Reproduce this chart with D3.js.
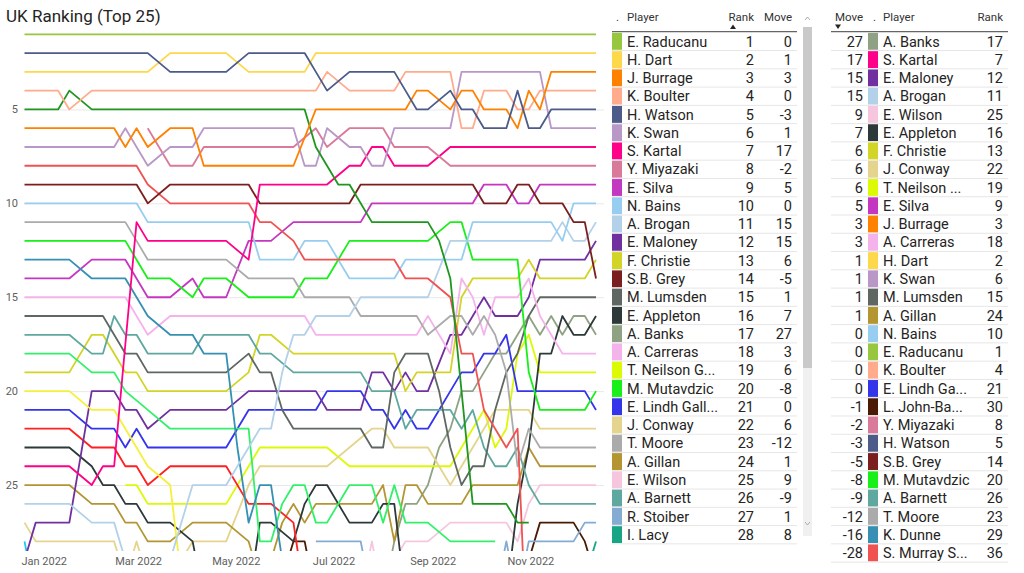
<!DOCTYPE html>
<html><head><meta charset="utf-8">
<script src="https://cdn.jsdelivr.net/npm/d3@7"></script>
<style>
body{margin:0;background:#fff;}
svg{display:block;font-family:Roboto, "Noto Sans", sans-serif;}
</style></head><body>
<svg id="c" width="1024" height="573"></svg>
<script>
const _ = null;
const weeks = ["2021-12-20","2021-12-27","2022-01-03","2022-01-10","2022-01-17","2022-01-24","2022-01-31","2022-02-07","2022-02-14","2022-02-21",
"2022-02-28","2022-03-07","2022-03-14","2022-03-21","2022-03-28","2022-04-04","2022-04-11","2022-04-18","2022-04-25","2022-05-02",
"2022-05-09","2022-05-16","2022-05-23","2022-05-30","2022-06-06","2022-06-13","2022-06-20","2022-06-27","2022-07-04","2022-07-11",
"2022-07-18","2022-07-25","2022-08-01","2022-08-08","2022-08-15","2022-08-22","2022-08-29","2022-09-05","2022-09-12","2022-09-19",
"2022-09-26","2022-10-03","2022-10-10","2022-10-17","2022-10-24","2022-10-31","2022-11-07","2022-11-14","2022-11-21","2022-11-28",
"2022-12-05","2022-12-12"];
const xTickLabels = ["2022-01-01","2022-03-01","2022-05-01","2022-07-01","2022-09-01","2022-11-01"];
const yTickLabels = [5,10,15,20,25];

// weekly ranks per player (values > 28 fall below the visible top-28 window)
const raducanu = [1,1,1,1,1,1,1,1,1,1, 1,1,1,1,1,1,1,1,1,1, 1,1,1,1,1,1,1,1,1,1, 1,1,1,1,1,1,1,1,1,1, 1,1,1,1,1,1,1,1,1,1, 1,1];
const watson = [2,2,2,2,2,2,2,2,2,2, 2,2,_,3,3,3,3,3,3,_, 2,2,2,2,2,2,3,4,_,3, 3,3,3,3,4,5,5,_,4,5, 5,6,6,6,4,6,6,5,5,5, 5,5];
const dart = [3,3,3,3,3,3,3,3,3,3, 3,3,_,2,2,2,2,2,2,_, 3,3,3,3,3,3,2,2,2,2, 2,2,2,2,2,2,2,2,2,2, 2,2,2,2,2,2,2,2,2,2, 2,2];
const burrage = [6,6,6,6,6,6,6,6,6,7, 6,7,_,6,6,6,8,8,8,8, 8,8,8,8,8,_,5,5,5,5, 5,5,5,5,5,4,4,_,5,4, 4,5,5,5,6,4,5,3,3,3, 3,3];
const boulter = [4,4,4,4,5,_,4,4,4,4, 4,4,4,4,4,4,4,4,4,4, 4,4,4,4,4,4,4,3,_,4, 4,4,4,4,3,3,3,3,3,6, 6,4,4,4,5,5,4,4,4,4, 4,4];
const darkGreen = [5,5,5,5,4,_,5,5,5,5, 5,5,5,5,5,5,5,5,5,5, 5,5,5,5,5,5,7,8,9,9, 10,11,11,11,11,11,11,12,14,20, 26,26,26,26,27,27,_,_,_,_, _,_];
const swan = [7,7,7,7,7,7,7,7,7,6, 7,8,_,7,7,7,6,6,6,6, 6,6,6,6,6,8,8,6,_,7, 7,8,8,6,6,6,6,6,6,3, 3,3,3,3,3,3,3,6,6,6, 6,6];
const miyazaki = [_,_,_,_,_,_,_,_,_,_, _,6,_,8,8,8,7,7,7,7, 7,7,7,7,7,_,6,7,_,6, 6,6,6,7,7,7,7,_,8,8, 8,8,8,8,8,8,8,8,8,8, 8,8];
const kartal = [24,24,24,24,24,_,25,24,24,_, 11,12,12,12,12,12,12,12,12,_, 13,9,9,9,9,9,9,9,_,8, 8,7,7,8,8,8,8,_,7,7, 7,7,7,7,7,7,7,7,7,7, 7,7];
const grey = [9,9,9,9,9,9,9,9,9,9, 9,10,_,9,9,9,9,9,9,9, 9,10,10,10,10,10,10,10,10,10, 9,9,9,9,9,9,9,9,9,9, 9,10,10,10,9,9,10,10,10,11, 11,14];
const murray = [8,8,8,8,8,8,8,8,8,8, 8,9,_,10,10,10,10,10,10,10, 10,11,11,_,12,13,13,13,13,13, 13,13,13,13,14,14,14,_,15,18, 18,21,22,23,22,36,36,36,36,36, 36,36];
const bains = [10,10,10,10,10,10,10,10,10,10, 10,11,11,11,11,11,11,11,11,11, 11,13,13,13,13,12,12,12,13,14, 14,14,14,14,13,13,13,13,13,13, 11,11,11,11,11,11,11,11,12,10, 10,10];
const brogan = [26,26,26,26,26,_,27,27,27,29, 31,31,31,29,_,25,25,25,25,_, 23,22,22,19,17,17,16,16,16,16, 15,15,15,15,15,15,15,_,12,12, 12,12,12,12,12,12,12,12,11,12, 12,11];
const moore = [11,11,11,11,11,11,11,11,11,11, 12,13,13,13,13,13,13,13,13,_, 14,14,14,14,14,15,15,15,15,15, 16,16,16,16,16,16,17,_,16,16, 17,16,17,19,24,22,23,23,23,23, 23,23];
const mutavdzic = [12,12,12,12,12,12,12,12,12,12, 13,14,14,14,_,15,14,14,14,_, 15,15,15,15,15,14,14,14,13,12, 12,12,12,12,12,12,12,_,11,11, 13,13,13,13,13,19,21,21,21,21, 21,20];
const dunne = [13,13,13,13,13,_,14,14,14,14, 15,16,_,17,17,17,18,18,18,23, 27,25,25,29,31,31,31,31,31,31, 31,31,31,31,31,31,31,31,31,31, 31,31,31,31,31,31,31,31,31,31, 31,29];
const silva = [14,14,14,14,14,_,13,13,13,13, 14,15,15,15,_,14,15,15,15,_, 12,12,12,_,11,11,11,11,11,11, 11,10,10,10,10,10,10,10,10,10, 10,9,9,9,10,10,9,9,9,9, 9,9];
const carreras = [15,15,15,15,15,15,15,15,15,15, 16,17,_,16,16,16,16,16,16,16, 16,16,16,16,16,16,17,17,17,17, 17,17,17,17,17,17,16,17,18,14, 15,17,15,15,15,14,16,17,18,18, 18,18];
const lumsden = [16,16,16,16,16,16,16,16,17,18, 18,19,19,19,19,19,19,19,19,_, 18,19,19,21,22,22,22,22,22,22, 22,23,23,19,18,18,18,20,23,25, 24,24,21,19,18,16,15,15,15,15, 15,15];
const barnett = [17,17,17,17,17,_,18,18,16,17, 17,18,18,18,18,18,17,17,17,17, 17,18,18,_,19,19,19,19,19,19, 19,20,20,20,22,21,21,21,21,22, 21,23,24,24,23,25,26,26,26,26, 26,26];
const springGreen = [18,18,18,18,18,_,19,19,19,20, _,21,_,22,22,22,22,22,22,22, 22,28,28,26,25,25,27,27,_,25, 25,25,27,25,27,27,27,_,28,28, 28,28,28,_,_,_,_,_,_,_, _,_];
const christie = [19,19,19,19,19,_,17,17,18,19, 19,20,20,20,20,20,20,20,20,_, 19,17,17,_,18,18,18,18,18,18, 18,18,18,18,20,19,19,19,19,15, 14,14,14,14,14,13,14,14,14,14, 14,13];
const yellow20 = [20,20,20,20,20,_,21,21,21,22, 23,24,_,25,30,_,_,_,_,_, _,_,_,_,_,_,_,_,_,_, _,_,_,_,_,_,_,_,_,_, _,_,_,_,_,_,_,_,_,_, _,_];
const maloney = [29,27,27,27,27,_,20,20,20,21, 21,22,_,21,21,21,21,21,21,_, 20,20,20,20,20,20,20,21,21,21, 21,19,19,20,19,20,20,_,17,17, 16,15,16,16,16,15,13,13,13,13, 13,12];
const lindh = [21,21,21,21,21,_,22,22,22,23, 22,23,23,23,23,23,23,23,23,_, 21,21,21,21,21,21,21,20,20,20, 20,21,21,22,21,22,22,21,20,19, 19,18,18,17,20,20,20,20,20,20, 20,21];
const red22 = [22,22,22,22,22,_,23,23,23,24, 24,25,_,24,24,24,24,24,24,_, 26,26,26,_,27,31,_,_,_,_, _,_,_,_,_,_,_,_,_,_, _,_,_,_,_,_,_,_,_,_, _,_];
const appleton = [23,23,23,23,23,_,24,25,25,26, 26,27,_,27,_,28,31,31,31,31, 31,27,27,_,28,26,25,25,_,27, 27,27,26,26,31,31,31,31,31,31, 31,31,31,31,26,23,18,18,16,17, 17,16];
const gillan = [25,25,25,25,25,_,26,26,26,27, 27,28,_,28,_,27,27,27,27,_, 28,30,29,27,26,27,26,26,26,26, 26,26,25,28,25,25,26,26,26,26, 25,25,25,25,25,23,24,24,24,24, 24,24];
const conway = [27,28,28,28,28,28,28,28,28,30, 28,30,_,30,29,28,28,28,28,_, 25,24,24,24,24,24,24,24,_,23, _,22,22,23,23,23,23,24,25,24, 23,22,21,21,21,21,22,22,22,22, 22,22];
const neilson = [_,_,_,_,_,_,_,_,_,25, 25,26,26,26,26,26,26,26,26,_, 24,23,23,23,23,23,23,23,_,24, 24,24,24,24,24,24,24,24,24,23, 22,21,23,22,18,17,19,19,19,19, 19,19];
const stoiber = [_,_,_,_,_,_,_,_,_,_, _,_,_,_,_,_,_,_,_,_, _,_,_,_,_,_,28,28,28,28, 28,31,31,31,31,31,31,31,31,31, 31,31,31,28,31,28,28,28,28,28, 27,27];
const wilson = [_,_,_,_,_,_,_,_,_,_, _,_,_,_,_,_,_,_,_,_, _,_,_,_,_,_,_,_,_,_, 31,28,31,29,28,28,28,_,27,27, 27,27,27,27,28,26,25,25,25,25, 25,25];
const banks = [_,_,_,_,_,_,_,_,_,_, _,_,_,_,_,_,_,_,_,_, _,_,_,_,_,_,_,_,_,_, _,_,31,28,26,26,25,23,22,20, 20,19,18,18,17,16,17,16,17,16, 16,17];
const johnBaylis = [29,31,31,31,31,31,31,31,31,31, 31,31,31,31,31,31,31,31,31,31, 31,31,31,30,28,28,31,31,31,31, 31,31,31,31,31,31,31,31,31,31, 31,31,31,31,31,29,27,27,27,27, 28,30];
const lacy = [_,_,_,_,_,_,_,_,_,_, _,_,_,_,_,_,_,_,_,_, _,_,_,_,_,_,_,_,_,_, _,_,_,_,_,_,_,_,_,_, _,_,_,_,_,_,_,_,_,31, 30,28];
const cyan28 = [28,31,_,_,_,_,_,_,_,_, _,_,_,_,_,_,_,_,_,_, _,_,_,_,_,_,_,_,_,_, _,_,_,_,_,_,_,_,_,_, _,_,_,_,_,_,_,_,_,_, _,_];

const seriesNames = ["E. Raducanu","H. Watson","H. Dart","J. Burrage","K. Boulter","Player 5","K. Swan","Y. Miyazaki","S. Kartal","S.B. Grey",
 "S. Murray Sharan","N. Bains","A. Brogan","T. Moore","M. Mutavdzic","K. Dunne","E. Silva","A. Carreras","M. Lumsden","A. Barnett",
 "Player 18","F. Christie","Player 20","E. Maloney","E. Lindh Gallagher","Player 22","E. Appleton","A. Gillan","J. Conway","T. Neilson Gale",
 "R. Stoiber","E. Wilson","A. Banks","L. John-Baylis","I. Lacy","Player 28"];
const seriesValues = [raducanu,watson,dart,burrage,boulter,darkGreen,swan,miyazaki,kartal,grey,
 murray,bains,brogan,moore,mutavdzic,dunne,silva,carreras,lumsden,barnett,
 springGreen,christie,yellow20,maloney,lindh,red22,appleton,gillan,conway,neilson,
 stoiber,wilson,banks,johnBaylis,lacy,cyan28];
const seriesColors = ["#97C73E","#4C5B8A","#FDD84A","#FF8100","#FFAB8C","#1F971F","#B997C6","#D97A9B","#FF0088","#7B1E1E",
 "#F05252","#96CDF0","#B3D1E8","#ABABAB","#19EF19","#3690B3","#C337C1","#F5B3EC","#5F6763","#5FA89F",
 "#33F06B","#D2D426","#F6F03C","#7030A0","#3434EB","#FF2121","#2D3838","#B39532","#E5D48D","#DDFA05",
 "#84ABD2","#F5C6DD","#8FA283","#4B1A04","#17A585","#18CBEF"];

// tables
const leftPlayers = ["E. Raducanu","H. Dart","J. Burrage","K. Boulter","H. Watson","K. Swan","S. Kartal","Y. Miyazaki","E. Silva","N. Bains",
 "A. Brogan","E. Maloney","F. Christie","S.B. Grey","M. Lumsden","E. Appleton","A. Banks","A. Carreras","T. Neilson G...","M. Mutavdzic",
 "E. Lindh Gall...","J. Conway","T. Moore","A. Gillan","E. Wilson","A. Barnett","R. Stoiber","I. Lacy"];
const leftKeys = ["E. Raducanu","H. Dart","J. Burrage","K. Boulter","H. Watson","K. Swan","S. Kartal","Y. Miyazaki","E. Silva","N. Bains",
 "A. Brogan","E. Maloney","F. Christie","S.B. Grey","M. Lumsden","E. Appleton","A. Banks","A. Carreras","T. Neilson Gale","M. Mutavdzic",
 "E. Lindh Gallagher","J. Conway","T. Moore","A. Gillan","E. Wilson","A. Barnett","R. Stoiber","I. Lacy"];
const leftRank = [1,2,3,4,5,6,7,8,9,10,11,12,13,14,15,16,17,18,19,20,21,22,23,24,25,26,27,28];
const leftMove = [0,1,3,0,-3,1,17,-2,5,0,15,15,6,-5,1,7,27,3,6,-8,0,6,-12,1,9,-9,1,8];

const rightMove = [27,17,15,15,9,7,6,6,6,5,3,3,1,1,1,1,0,0,0,0,-1,-2,-3,-5,-8,-9,-12,-16,-28];
const rightPlayers = ["A. Banks","S. Kartal","E. Maloney","A. Brogan","E. Wilson","E. Appleton","F. Christie","J. Conway","T. Neilson ...","E. Silva",
 "J. Burrage","A. Carreras","H. Dart","K. Swan","M. Lumsden","A. Gillan","N. Bains","E. Raducanu","K. Boulter","E. Lindh Ga...",
 "L. John-Ba...","Y. Miyazaki","H. Watson","S.B. Grey","M. Mutavdzic","A. Barnett","T. Moore","K. Dunne","S. Murray S..."];
const rightKeys = ["A. Banks","S. Kartal","E. Maloney","A. Brogan","E. Wilson","E. Appleton","F. Christie","J. Conway","T. Neilson Gale","E. Silva",
 "J. Burrage","A. Carreras","H. Dart","K. Swan","M. Lumsden","A. Gillan","N. Bains","E. Raducanu","K. Boulter","E. Lindh Gallagher",
 "L. John-Baylis","Y. Miyazaki","H. Watson","S.B. Grey","M. Mutavdzic","A. Barnett","T. Moore","K. Dunne","S. Murray Sharan"];
const rightRank = [17,7,12,11,25,16,13,22,19,9,3,18,2,6,15,24,10,1,4,21,30,8,5,14,20,26,23,29,36];

// ---------- drawing ----------
const svg = d3.select("#c");
const parse = d3.timeParse("%Y-%m-%d");
const dates = weeks.map(parse);
const colorOf = new Map(seriesNames.map((n,i)=>[n, seriesColors[i]]));

const x = d3.scaleTime().domain([dates[0], dates[dates.length-1]]).range([24.5, 596]);
const y = d3.scaleLinear().domain([1, 28]).range([34.3, 541.4]);

svg.append("text").attr("x",6).attr("y",22).attr("font-size",17).attr("fill","#252423").text("UK Ranking (Top 25)");

const yAxis = svg.append("g").attr("transform","translate(24,0)")
  .call(d3.axisLeft(y).tickValues(yTickLabels).tickSize(-580).tickPadding(6).tickFormat(d3.format("d")));
yAxis.select(".domain").remove();
yAxis.selectAll(".tick line").attr("stroke","#E8E8E8");
yAxis.selectAll(".tick text").attr("fill","#605E5C").attr("font-size",11).attr("font-family","Roboto");

const xAxis = svg.append("g").attr("transform","translate(0,554)")
  .call(d3.axisBottom(x).tickValues(xTickLabels.map(parse)).tickSize(0).tickPadding(3).tickFormat(d3.timeFormat("%b %Y")));
xAxis.select(".domain").remove();
xAxis.selectAll(".tick text").attr("fill","#605E5C").attr("font-size",11).attr("font-family","Roboto");

svg.append("clipPath").attr("id","plotclip").append("rect").attr("x",0).attr("y",20).attr("width",610).attr("height",531);
const line = d3.line().x(d=>x(d.date)).y(d=>y(d.rank));
const lg = svg.append("g").attr("clip-path","url(#plotclip)");
d3.range(seriesNames.length).reverse().forEach(si=>{
  const pts = seriesValues[si].map((v,i)=>({date:dates[i], rank:v})).filter(d=>d.rank!=null);
  if (pts.length < 2) return;
  lg.append("path").attr("d", line(pts)).attr("fill","none")
    .attr("stroke", seriesColors[si]).attr("stroke-width",1.8).attr("stroke-linejoin","round");
});

// table helper
const rowH = 18.27, top0 = 32.3;
function drawTable(opts){
  const g = svg.append("g").attr("font-family","Roboto");
  // header
  opts.headers.forEach(h=>{
    g.append("text").attr("x",h.x).attr("y",21).attr("text-anchor",h.anchor).attr("font-size",11.5)
      .attr("fill","#333").text(h.t);
  });
  g.append("line").attr("x1",opts.x0).attr("x2",opts.x1).attr("y1",31.7).attr("y2",31.7).attr("stroke","#666").attr("stroke-width",1.2);
  opts.rows.forEach((r,k)=>{
    const t = top0 + k*rowH;
    g.append("rect").attr("x",opts.sw).attr("y",t+0.6).attr("width",10).attr("height",rowH-1.4).attr("fill",colorOf.get(r.key)||"#999");
    r.cells.forEach(c=>{
      g.append("text").attr("x",c.x).attr("y",t+14.2).attr("text-anchor",c.anchor).attr("font-size",14.5)
        .attr("fill","#252423").text(c.t);
    });
    g.append("line").attr("x1",opts.x0).attr("x2",opts.x1).attr("y1",t+rowH).attr("y2",t+rowH).attr("stroke","#E6E6E6").attr("stroke-width",1);
  });
}
const fmtMove = v => v < 0 ? "-" + Math.abs(v) : String(v);
drawTable({x0:612, x1:797, sw:612,
  headers:[{x:616,t:".",anchor:"start"},{x:627,t:"Player",anchor:"start"},{x:754,t:"Rank",anchor:"end"},{x:792,t:"Move",anchor:"end"}],
  rows: leftPlayers.map((p,i)=>({key:leftKeys[i], cells:[{x:627,t:p,anchor:"start"},{x:754,t:leftRank[i],anchor:"end"},{x:792,t:fmtMove(leftMove[i]),anchor:"end"}]}))
});
drawTable({x0:831, x1:1008, sw:868,
  headers:[{x:835,t:"Move",anchor:"start"},{x:873,t:".",anchor:"start"},{x:883,t:"Player",anchor:"start"},{x:1003,t:"Rank",anchor:"end"}],
  rows: rightPlayers.map((p,i)=>({key:rightKeys[i], cells:[{x:863,t:fmtMove(rightMove[i]),anchor:"end"},{x:883,t:p,anchor:"start"},{x:1003,t:rightRank[i],anchor:"end"}]}))
});
// sort indicators
svg.append("path").attr("d","M730,29 L736,29 L733,24.5 Z").attr("fill","#252423");
svg.append("path").attr("d","M835,24.5 L841,24.5 L838,29 Z").attr("fill","#252423");
// scrollbar
svg.append("rect").attr("x",803).attr("y",27).attr("width",9).attr("height",509).attr("fill","#F0F0F0");
svg.append("rect").attr("x",803).attr("y",27).attr("width",9).attr("height",341).attr("fill","#C9C9C9");
svg.append("path").attr("d","M805,20 L807.5,17 L810,20").attr("fill","none").attr("stroke","#999").attr("stroke-width",0.8);
svg.append("path").attr("d","M805,522 L807.5,525 L810,522").attr("fill","none").attr("stroke","#999").attr("stroke-width",0.8);
</script>
</body></html>
